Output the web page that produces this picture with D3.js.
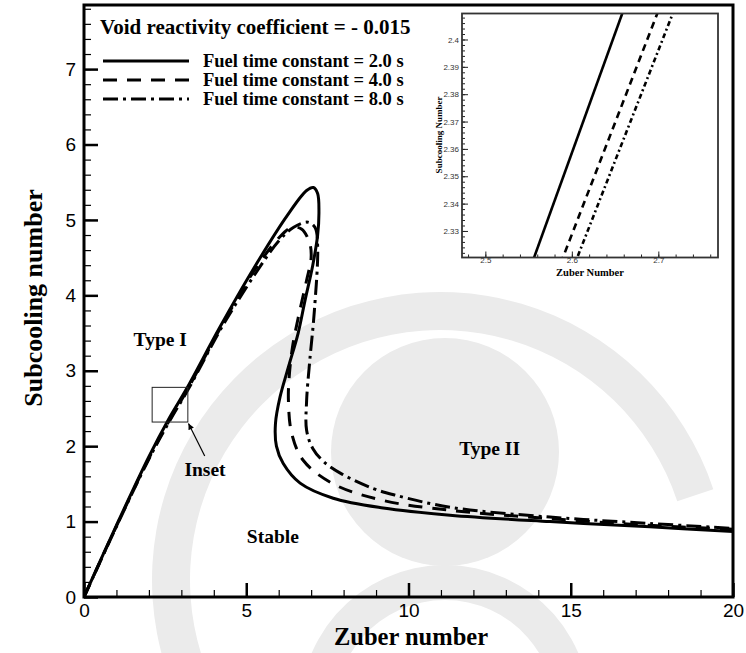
<!DOCTYPE html>
<html><head><meta charset="utf-8">
<script src="https://cdn.jsdelivr.net/npm/d3@7"></script>
<style>body{margin:0;background:#fff}svg{display:block}</style>
</head><body>
<svg id="c" width="746" height="653"></svg>
<script>
// ---- data ----
const xTicks = [0, 5, 10, 15, 20];
const yTicks = [0, 1, 2, 3, 4, 5, 6, 7];
const seriesNames = ["Fuel time constant = 2.0 s", "Fuel time constant = 4.0 s", "Fuel time constant = 8.0 s"];
const legendTitle = "Void reactivity coefficient = - 0.015";
const tau2 = [[0,0],[1,0.95],[2,1.86],[2.6,2.35],[3.16,2.76],[4.19,3.58],[5.22,4.35],[6.25,5.05],[6.86,5.39],[7.07,5.43],[7.2,5.35],[7.24,5.1],[7.2,4.8],[7.05,4.4],[6.81,3.93],[6.6,3.5],[6.3,3.05],[6.04,2.65],[5.9,2.3],[5.93,2.0],[6.14,1.77],[6.66,1.51],[7.68,1.31],[9.22,1.18],[11.28,1.085],[14.36,1.0],[17.44,0.93],[20,0.87]];
const tau4 = [[0,0],[1,0.94],[2,1.84],[2.64,2.35],[3.2,2.76],[4.22,3.58],[5.25,4.33],[6.0,4.76],[6.4,4.9],[6.7,4.88],[6.95,4.7],[7.0,4.5],[6.86,4.2],[6.6,3.7],[6.42,3.3],[6.32,2.9],[6.3,2.6],[6.4,2.17],[6.76,1.81],[7.68,1.5],[9.22,1.28],[11.28,1.15],[14.36,1.04],[17.44,0.95],[20,0.9]];
const tau8 = [[0,0],[1,0.935],[2,1.83],[2.66,2.35],[3.22,2.76],[4.25,3.58],[5.3,4.3],[6.0,4.72],[6.45,4.9],[6.9,4.97],[7.12,4.9],[7.2,4.65],[7.1,3.8],[6.95,3.1],[6.86,2.6],[6.86,2.21],[7.05,1.97],[7.4,1.79],[7.95,1.63],[8.9,1.44],[9.6,1.35],[11.28,1.19],[14.36,1.06],[17.44,0.975],[20,0.91]];
// inset (zoom)
const insetXTicks = [2.5, 2.6, 2.7];
const insetYTicks = [2.33, 2.34, 2.35, 2.36, 2.37, 2.38, 2.39, 2.4];
const inset2 = [[2.548,2.313],[2.668,2.418]];
const inset4 = [[2.582,2.314],[2.708,2.417]];
const inset8 = [[2.596,2.312],[2.726,2.417]];
const insetBox = [[2.1,2.32],[3.2,2.78]];
const regionLabels = [["Type I",2.35,3.33],["Inset",3.73,1.6],["Stable",5.82,0.72],["Type II",12.5,1.88]];

// ---- drawing ----
const svg = d3.select("#c");
const serif = "'Liberation Serif','Times New Roman',serif";
const sans = "'Liberation Sans',Arial,sans-serif";
const x = d3.scaleLinear([0,20],[84,733]);
const y = d3.scaleLinear([0,7.85],[597,5]);

// faint background watermark (decorative)
const wm = svg.append("g").attr("fill","#ebebeb");
wm.append("circle").attr("cx",445).attr("cy",452).attr("r",114);
wm.append("path").attr("d",d3.arc()({innerRadius:250,outerRadius:288,startAngle:-2.6,endAngle:1.25})).attr("transform","translate(440,580)");
wm.append("path").attr("d",d3.arc()({innerRadius:110,outerRadius:145,startAngle:-1.7,endAngle:1.7})).attr("transform","translate(445,710)");

const styles = [{dash:null},{dash:"14,10"},{dash:"15,5,3,5"}];
const line = d3.line().x(d=>x(d[0])).y(d=>y(d[1])).curve(d3.curveCatmullRom.alpha(0.5));

const clip = svg.append("defs").append("clipPath").attr("id","pc").append("rect")
  .attr("x",x(0)).attr("y",y(7.85)).attr("width",x(20)-x(0)).attr("height",y(0)-y(7.85));

// curves
const gc = svg.append("g").attr("clip-path","url(#pc)");
[tau2,tau4,tau8].forEach((s,i)=>{
  gc.append("path").attr("d",line(s)).attr("fill","none").attr("stroke","#000")
    .attr("stroke-width",3).attr("stroke-dasharray",styles[i].dash);
});

// inset box on main plot
svg.append("rect").attr("x",x(insetBox[0][0])).attr("y",y(insetBox[1][1]))
  .attr("width",x(insetBox[1][0])-x(insetBox[0][0])).attr("height",y(insetBox[0][1])-y(insetBox[1][1]))
  .attr("fill","none").attr("stroke","#222").attr("stroke-width",1);

// arrow
svg.append("defs").append("marker").attr("id","ah").attr("viewBox","0 0 10 10").attr("refX",10).attr("refY",5)
  .attr("markerWidth",10).attr("markerHeight",6).attr("orient","auto").attr("markerUnits","userSpaceOnUse")
  .append("path").attr("d","M0,0L10,5L0,10z").attr("fill","#000");
svg.append("line").attr("x1",x(3.72)).attr("y1",y(1.87)).attr("x2",x(3.22)).attr("y2",y(2.3))
  .attr("stroke","#000").attr("stroke-width",1.2).attr("marker-end","url(#ah)");

// region labels
regionLabels.forEach(l=>{
  svg.append("text").attr("x",x(l[1])).attr("y",y(l[2])).attr("text-anchor","middle")
    .attr("font-family",serif).attr("font-weight","bold").attr("font-size",19.5).text(l[0]);
});

// axes ticks
const gx = svg.append("g").attr("transform",`translate(0,${y(0)})`);
gx.call(d3.axisBottom(x).tickValues(d3.range(0,21,1)).tickSize(-7).tickFormat(""));
gx.call(g=>g.selectAll(".tick line").attr("stroke-width",1.2));
const gx2 = svg.append("g").attr("transform",`translate(0,${y(0)})`);
gx2.call(d3.axisBottom(x).tickValues(xTicks).tickSize(-14).tickPadding(24).tickFormat(d3.format("d")));
gx2.selectAll(".tick line").attr("stroke-width",2.5);
gx2.selectAll(".tick text").attr("font-family",sans).attr("font-size",19).attr("dy","-0.2em");
const gy = svg.append("g").attr("transform",`translate(${x(0)},0)`);
gy.call(d3.axisLeft(y).tickValues(d3.range(0,7.81,0.2)).tickSize(-7).tickFormat(""));
gy.selectAll(".tick line").attr("stroke-width",1.2);
const gy2 = svg.append("g").attr("transform",`translate(${x(0)},0)`);
gy2.call(d3.axisLeft(y).tickValues(yTicks).tickSize(-14).tickPadding(8).tickFormat(d3.format("d")));
gy2.selectAll(".tick line").attr("stroke-width",2.5);
gy2.selectAll(".tick text").attr("font-family",sans).attr("font-size",19);
svg.selectAll(".domain").remove();

// frame
svg.append("rect").attr("x",x(0)).attr("y",y(7.85)).attr("width",x(20)-x(0)).attr("height",y(0)-y(7.85))
  .attr("fill","none").attr("stroke","#000").attr("stroke-width",3);

// axis titles
svg.append("text").attr("x",411).attr("y",645).attr("text-anchor","middle")
  .attr("font-family",serif).attr("font-weight","bold").attr("font-size",24.5).text("Zuber number");
svg.append("text").attr("transform",`translate(42,298) rotate(-90)`).attr("text-anchor","middle")
  .attr("font-family",serif).attr("font-weight","bold").attr("font-size",26).text("Subcooling number");

// legend
svg.append("text").attr("x",100).attr("y",34).attr("font-family",serif).attr("font-weight","bold")
  .attr("font-size",21).text(legendTitle);
seriesNames.forEach((n,i)=>{
  const yy = 61 + i*19;
  svg.append("line").attr("x1",103).attr("x2",189).attr("y1",yy).attr("y2",yy)
    .attr("stroke","#000").attr("stroke-width",3).attr("stroke-dasharray",styles[i].dash);
  svg.append("text").attr("x",203).attr("y",yy+6).attr("font-family",serif).attr("font-weight","bold")
    .attr("font-size",18.5).text(n);
});

// ---- inset ----
const ix = d3.scaleLinear([2.473,2.769],[462,718]);
const iy = d3.scaleLinear([2.3203,2.4095],[257.5,13.5]);
const ig = svg.append("g");
ig.append("rect").attr("x",462).attr("y",13.5).attr("width",256).attr("height",244).attr("fill","#fff");
ig.append("clipPath").attr("id","ic").append("rect").attr("x",462).attr("y",13.5).attr("width",256).attr("height",244);
const iline = d3.line().x(d=>ix(d[0])).y(d=>iy(d[1]));
const ic = ig.append("g").attr("clip-path","url(#ic)");
[inset2,inset4,inset8].forEach((s,i)=>{
  ic.append("path").attr("d",iline(s)).attr("fill","none").attr("stroke","#000").attr("stroke-width",2.6)
    .attr("stroke-dasharray",[null,"7,5","5,3,2,3"][i]);
});
const igx = ig.append("g").attr("transform","translate(0,257.5)");
igx.call(d3.axisBottom(ix).tickValues(d3.range(2.48,2.765,0.02)).tickSize(-3).tickFormat(""));
const igx2 = ig.append("g").attr("transform","translate(0,257.5)");
igx2.call(d3.axisBottom(ix).tickValues(insetXTicks).tickSize(-6).tickPadding(3).tickFormat(d3.format(".1f")));
igx2.selectAll(".tick text").attr("font-family",sans).attr("font-size",8).attr("fill","#333").attr("dy","0.3em");
const igy = ig.append("g").attr("transform","translate(462,0)");
igy.call(d3.axisLeft(iy).tickValues(d3.range(2.322,2.409,0.002)).tickSize(-3).tickFormat(""));
const igy2 = ig.append("g").attr("transform","translate(462,0)");
igy2.call(d3.axisLeft(iy).tickValues(insetYTicks).tickSize(-6).tickPadding(3).tickFormat(d=>d3.format(".2f")(d).replace(/0$/,"")));
igy2.selectAll(".tick text").attr("font-family",sans).attr("font-size",8).attr("fill","#333");
ig.selectAll(".domain").remove();
ig.selectAll(".tick line").attr("stroke","#222");
ig.append("rect").attr("x",462).attr("y",13.5).attr("width",256).attr("height",244)
  .attr("fill","none").attr("stroke","#333").attr("stroke-width",1.8);
ig.append("text").attr("x",590).attr("y",276).attr("text-anchor","middle").attr("font-family",serif)
  .attr("font-weight","bold").attr("font-size",10.5).text("Zuber Number");
ig.append("text").attr("transform","translate(442,135) rotate(-90)").attr("text-anchor","middle").attr("font-family",serif)
  .attr("font-weight","bold").attr("font-size",9).text("Subcooling Number");
</script>
</body></html>
